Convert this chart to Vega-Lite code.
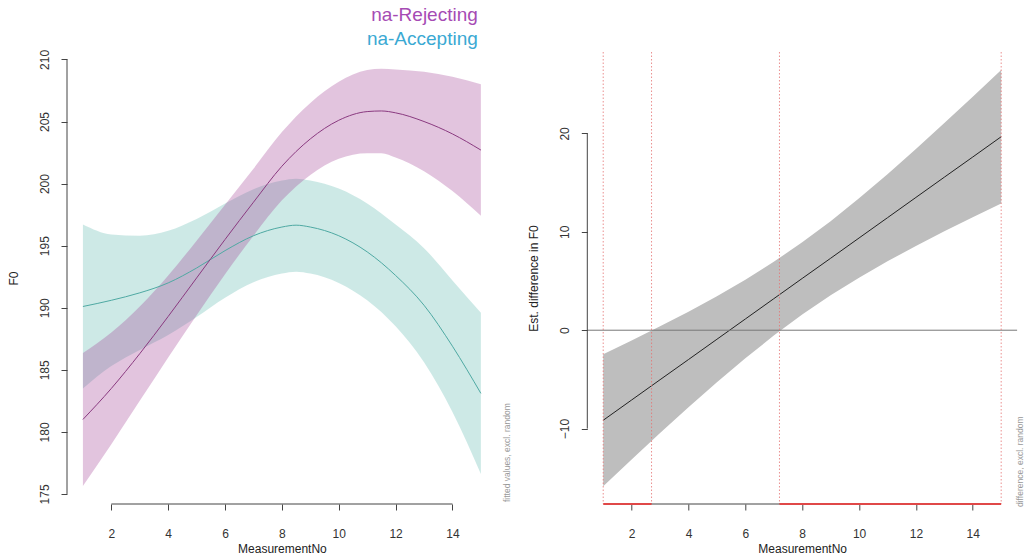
{
  "$schema": "https://vega.github.io/schema/vega-lite/v6.json",
  "padding": {"left": 7, "top": 6, "right": 0, "bottom": 0},
  "background": "white",
  "bounds": "flush",
  "spacing": 90.3,
  "config": {
    "font": "Liberation Sans",
    "view": {"stroke": null},
    "axis": {
      "grid": false, "domain": false, "tickColor": "#444", "tickSize": 6, "tickWidth": 1,
      "labelColor": "#333", "labelFontSize": 12, "labelFont": "Liberation Sans",
      "titleFont": "Liberation Sans", "titleFontSize": 12, "titleFontWeight": "normal", "titleColor": "#222"
    },
    "axisX": {"labelBaseline": "top", "labelPadding": 18, "titlePadding": 4, "labelFlush": false},
    "axisY": {"labelAngle": -90, "labelAlign": "center", "labelBaseline": "bottom", "labelPadding": 10, "titlePadding": 18}
  },
  "datasets": {
    "one": [{}],
    "fits": [
      {"group": "na-Accepting", "x": 1, "fit": 190.1, "lo": 183.5, "hi": 196.7},
      {"group": "na-Accepting", "x": 2, "fit": 190.6, "lo": 185.3, "hi": 195.9},
      {"group": "na-Accepting", "x": 3, "fit": 191.2, "lo": 186.6, "hi": 195.8},
      {"group": "na-Accepting", "x": 4, "fit": 192.0, "lo": 187.8, "hi": 196.2},
      {"group": "na-Accepting", "x": 5, "fit": 193.2, "lo": 189.25, "hi": 197.15},
      {"group": "na-Accepting", "x": 6, "fit": 194.6, "lo": 190.8, "hi": 198.4},
      {"group": "na-Accepting", "x": 7, "fit": 195.8, "lo": 192.05, "hi": 199.55},
      {"group": "na-Accepting", "x": 8, "fit": 196.5, "lo": 192.75, "hi": 200.25},
      {"group": "na-Accepting", "x": 8.5, "fit": 196.65, "lo": 192.9, "hi": 200.4},
      {"group": "na-Accepting", "x": 9, "fit": 196.5, "lo": 192.75, "hi": 200.25},
      {"group": "na-Accepting", "x": 10, "fit": 195.8, "lo": 192.0, "hi": 199.6},
      {"group": "na-Accepting", "x": 11, "fit": 194.5, "lo": 190.6, "hi": 198.4},
      {"group": "na-Accepting", "x": 12, "fit": 192.6, "lo": 188.5, "hi": 196.7},
      {"group": "na-Accepting", "x": 13, "fit": 190.2, "lo": 185.6, "hi": 194.8},
      {"group": "na-Accepting", "x": 14, "fit": 186.9, "lo": 181.6, "hi": 192.2},
      {"group": "na-Accepting", "x": 15, "fit": 183.1, "lo": 176.6, "hi": 189.6},
      {"group": "na-Rejecting", "x": 1, "fit": 181.0, "lo": 175.65, "hi": 186.35},
      {"group": "na-Rejecting", "x": 2, "fit": 183.5, "lo": 179.0, "hi": 188.0},
      {"group": "na-Rejecting", "x": 3, "fit": 186.3, "lo": 182.5, "hi": 190.1},
      {"group": "na-Rejecting", "x": 4, "fit": 189.3, "lo": 186.0, "hi": 192.6},
      {"group": "na-Rejecting", "x": 5, "fit": 192.4, "lo": 189.4, "hi": 195.4},
      {"group": "na-Rejecting", "x": 6, "fit": 195.5, "lo": 192.7, "hi": 198.3},
      {"group": "na-Rejecting", "x": 7, "fit": 198.5, "lo": 195.8, "hi": 201.2},
      {"group": "na-Rejecting", "x": 8, "fit": 201.4, "lo": 198.65, "hi": 204.15},
      {"group": "na-Rejecting", "x": 9, "fit": 203.6, "lo": 200.7, "hi": 206.5},
      {"group": "na-Rejecting", "x": 10, "fit": 205.1, "lo": 202.0, "hi": 208.2},
      {"group": "na-Rejecting", "x": 11, "fit": 205.8, "lo": 202.45, "hi": 209.15},
      {"group": "na-Rejecting", "x": 11.5, "fit": 205.85, "lo": 202.45, "hi": 209.25},
      {"group": "na-Rejecting", "x": 12, "fit": 205.7, "lo": 202.1, "hi": 209.2},
      {"group": "na-Rejecting", "x": 13, "fit": 205.0, "lo": 201.0, "hi": 209.0},
      {"group": "na-Rejecting", "x": 14, "fit": 204.0, "lo": 199.4, "hi": 208.6},
      {"group": "na-Rejecting", "x": 15, "fit": 202.7, "lo": 197.4, "hi": 208.0}
    ],
    "diff": [
      {"x": 1, "est": -9.15, "lo": -15.85, "hi": -2.45},
      {"x": 2, "est": -7.09, "lo": -13.13, "hi": -1.05},
      {"x": 3, "est": -5.03, "lo": -10.45, "hi": 0.39},
      {"x": 4, "est": -2.98, "lo": -7.84, "hi": 1.88},
      {"x": 5, "est": -0.92, "lo": -5.29, "hi": 3.45},
      {"x": 6, "est": 1.14, "lo": -2.85, "hi": 5.13},
      {"x": 7, "est": 3.20, "lo": -0.55, "hi": 6.95},
      {"x": 8, "est": 5.26, "lo": 1.59, "hi": 8.93},
      {"x": 9, "est": 7.31, "lo": 3.54, "hi": 11.08},
      {"x": 10, "est": 9.37, "lo": 5.33, "hi": 13.41},
      {"x": 11, "est": 11.43, "lo": 7.00, "hi": 15.86},
      {"x": 12, "est": 13.49, "lo": 8.56, "hi": 18.42},
      {"x": 13, "est": 15.55, "lo": 10.05, "hi": 21.05},
      {"x": 14, "est": 17.60, "lo": 11.47, "hi": 23.73},
      {"x": 15, "est": 19.66, "lo": 12.87, "hi": 26.45}
    ],
    "bounds": [{"b": 1}, {"b": 2.7}, {"b": 7.2}, {"b": 15}],
    "sig": [{"start": 1, "end": 2.7}, {"start": 7.2, "end": 15}]
  },
  "hconcat": [
    {
      "width": 429.8,
      "height": 452,
      "title": {
        "text": "na-Rejecting", "subtitle": "na-Accepting",
        "anchor": "end", "frame": "group", "dx": -19, "offset": 0,
        "font": "Liberation Sans", "subtitleFont": "Liberation Sans",
        "fontSize": 19, "subtitleFontSize": 19, "fontWeight": "normal",
        "color": "#a64bb4", "subtitleColor": "#3aa9d3", "subtitlePadding": 5
      },
      "layer": [
        {
          "data": {"name": "fits"},
          "mark": {"type": "area", "interpolate": "monotone", "opacity": 0.3},
          "encoding": {
            "x": {"field": "x", "type": "quantitative", "title": "MeasurementNo",
                  "scale": {"domain": [0.44, 15.56], "nice": false, "zero": false},
                  "axis": {"values": [2, 4, 6, 8, 10, 12, 14]}},
            "y": {"field": "lo", "type": "quantitative", "title": "F0",
                  "scale": {"domain": [174.19, 210.6], "nice": false, "zero": false},
                  "axis": {"values": [175, 180, 185, 190, 195, 200, 205, 210]}},
            "y2": {"field": "hi"},
            "fill": {"field": "group", "type": "nominal", "legend": null,
                     "scale": {"domain": ["na-Accepting", "na-Rejecting"], "range": ["#58b6ac", "#9e3a91"]}}
          }
        },
        {
          "data": {"name": "fits"},
          "mark": {"type": "line", "interpolate": "monotone", "strokeWidth": 1},
          "encoding": {
            "x": {"field": "x", "type": "quantitative", "title": "MeasurementNo"},
            "y": {"field": "fit", "type": "quantitative", "title": "F0"},
            "stroke": {"field": "group", "type": "nominal", "legend": null,
                       "scale": {"domain": ["na-Accepting", "na-Rejecting"], "range": ["#4fa9a3", "#8a3a80"]}}
          }
        },
        {
          "data": {"name": "one"},
          "mark": {"type": "rule", "color": "#444", "strokeWidth": 1},
          "encoding": {"x": {"datum": 2}, "x2": {"datum": 14}, "y": {"datum": 174.19}}
        },
        {
          "data": {"name": "one"},
          "mark": {"type": "rule", "color": "#444", "strokeWidth": 1},
          "encoding": {"x": {"datum": 0.44}, "y": {"datum": 175}, "y2": {"datum": 210}}
        },
        {
          "data": {"name": "one"},
          "mark": {"type": "text", "text": "fitted values, excl. random", "angle": 270, "align": "left", "baseline": "middle", "dx": 2, "dy": 10, "fontSize": 8.5, "color": "#999"},
          "encoding": {"x": {"datum": 15.56}, "y": {"datum": 174.19}}
        }
      ]
    },
    {
      "width": 429.8,
      "height": 452,
      "layer": [
        {
          "data": {"name": "diff"},
          "mark": {"type": "area", "color": "#bebebe"},
          "encoding": {
            "x": {"field": "x", "type": "quantitative", "title": "MeasurementNo",
                  "scale": {"domain": [0.44, 15.56], "nice": false, "zero": false},
                  "axis": {"values": [2, 4, 6, 8, 10, 12, 14]}},
            "y": {"field": "lo", "type": "quantitative", "title": "Est. difference in F0",
                  "scale": {"domain": [-17.66, 28.27], "nice": false, "zero": false},
                  "axis": {"values": [-10, 0, 10, 20]}},
            "y2": {"field": "hi"}
          }
        },
        {
          "data": {"name": "diff"},
          "mark": {"type": "line", "color": "#222", "strokeWidth": 1},
          "encoding": {
            "x": {"field": "x", "type": "quantitative", "title": "MeasurementNo"},
            "y": {"field": "est", "type": "quantitative", "title": "Est. difference in F0"}
          }
        },
        {
          "data": {"name": "one"},
          "mark": {"type": "rule", "color": "#777", "strokeWidth": 1},
          "encoding": {"y": {"datum": 0}}
        },
        {
          "data": {"name": "bounds"},
          "mark": {"type": "rule", "color": "#e57373", "strokeWidth": 1, "strokeDash": [1.5, 2], "opacity": 0.8},
          "encoding": {"x": {"field": "b", "type": "quantitative", "title": "MeasurementNo"}}
        },
        {
          "data": {"name": "one"},
          "mark": {"type": "rule", "color": "#444", "strokeWidth": 1},
          "encoding": {"x": {"datum": 2}, "x2": {"datum": 14}, "y": {"datum": -17.66}}
        },
        {
          "data": {"name": "one"},
          "mark": {"type": "rule", "color": "#444", "strokeWidth": 1},
          "encoding": {"x": {"datum": 0.44}, "y": {"datum": -10}, "y2": {"datum": 20}}
        },
        {
          "data": {"name": "sig"},
          "mark": {"type": "rule", "color": "#e04848", "strokeWidth": 2},
          "encoding": {
            "x": {"field": "start", "type": "quantitative", "title": "MeasurementNo"},
            "x2": {"field": "end"},
            "y": {"datum": -17.66}
          }
        },
        {
          "data": {"name": "one"},
          "mark": {"type": "text", "text": "difference, excl. random", "angle": 270, "align": "left", "baseline": "middle", "dx": -3, "dy": 2.5, "fontSize": 8.5, "color": "#999"},
          "encoding": {"x": {"datum": 15.56}, "y": {"datum": -17.66}}
        }
      ]
    }
  ]
}
